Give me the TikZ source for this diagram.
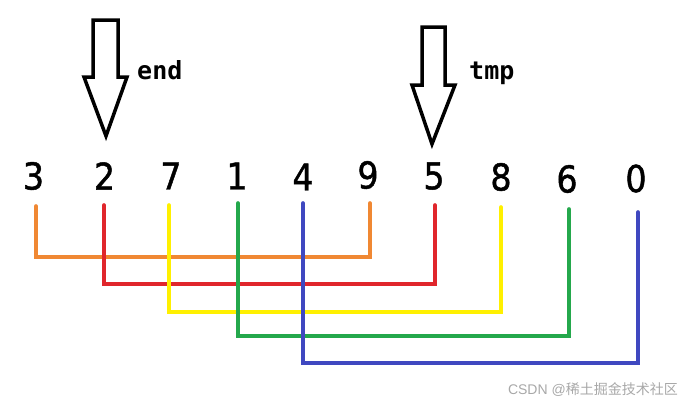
\documentclass[tikz,border=0pt]{standalone}
\usepackage{fontspec}
\setmainfont{Liberation Sans}
\newfontfamily\digf[FakeBold=1.3]{DejaVu Sans}
\newfontfamily\monof{DejaVu Sans Mono}
\newfontfamily\cjkf{Noto Sans CJK SC}
\definecolor{corange}{HTML}{F08833}
\definecolor{cred}{HTML}{E0262C}
\definecolor{cyellow}{HTML}{FFF000}
\definecolor{cgreen}{HTML}{24A84C}
\definecolor{cblue}{HTML}{3F48C0}
\definecolor{cmark}{HTML}{A8A8A8}
\begin{document}
\begin{tikzpicture}[x=1pt,y=-1pt,
  digit/.style={inner sep=0pt,anchor=center,xscale=0.9,font=\digf\fontsize{37}{37}\selectfont},
  lbl/.style={inner sep=0pt,anchor=west,font=\monof\bfseries\fontsize{25}{25}\selectfont},
  bigarrow/.style={draw=black,line width=3.5pt,line join=miter,fill=white},
  link/.style={line width=3.6pt,line cap=round,line join=miter}]
\useasboundingbox (0,0) rectangle (692,408);
% arrows
\draw[bigarrow] (93,20) -- (118,20) -- (118,77) -- (127,77) -- (106,136) -- (84,77) -- (93,77) -- cycle;
\node[lbl] (endl) at (137,70) {end};
\draw[bigarrow] (422,27) -- (445,27) -- (445,85) -- (455,85) -- (432,144) -- (412,85) -- (422,85) -- cycle;
\node[lbl] (tmpl) at (469,73) {tmp};
% digits
\node[digit] (d0) at (33.5,176) {3};
\node[digit] (d1) at (104.5,176) {2};
\node[digit] (d2) at (171,176) {7};
\node[digit] (d3) at (237,176) {1};
\node[digit] (d4) at (303,177) {4};
\node[digit] (d5) at (368,175) {9};
\node[digit] (d6) at (434,176) {5};
\node[digit] (d7) at (501,177) {8};
\node[digit] (d8) at (567,179) {6};
\node[digit] (d9) at (636,178.5) {0};
% line tops
\coordinate (t0) at (36,206);
\coordinate (t1) at (104,205);
\coordinate (t2) at (169,205);
\coordinate (t3) at (238,203);
\coordinate (t4) at (303,203);
\coordinate (t5) at (370,203);
\coordinate (t6) at (435,205);
\coordinate (t7) at (501,207);
\coordinate (t8) at (569,209);
\coordinate (t9) at (638,212);
% line corners
\coordinate (b0) at (36,257);
\coordinate (b1) at (104,284);
\coordinate (b2) at (169,312);
\coordinate (b3) at (238,336);
\coordinate (b4) at (303,363);
% links
\draw[link,corange] (t0) -- (b0) -| (t5);
\draw[link,cred] (t1) -- (b1) -| (t6);
\draw[link,cyellow] (t2) -- (b2) -| (t7);
\draw[link,cgreen] (t3) -- (b3) -| (t8);
\draw[link,cblue] (t4) -- (b4) -| (t9);
% watermark
\node[inner sep=0pt,anchor=east,text=cmark,font=\fontsize{14}{14}\selectfont] (wm) at (678,390) {CSDN @\cjkf 稀土掘金技术社区};
\end{tikzpicture}
\end{document}
